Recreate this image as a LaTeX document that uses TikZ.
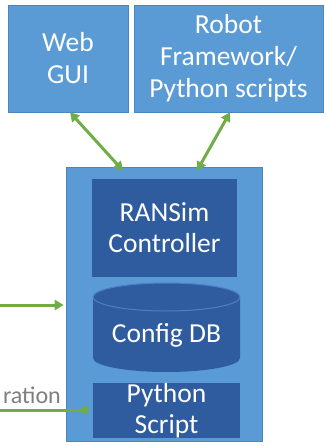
\documentclass[tikz,border=0pt]{standalone}
\usepackage{fontspec}
\setmainfont{Carlito}
\usetikzlibrary{arrows.meta,positioning,calc}

\definecolor{boxblue}{HTML}{5B9BD5}
\definecolor{boxedge}{HTML}{4A86C2}
\definecolor{darkblue}{HTML}{2E5C9E}
\definecolor{rimblue}{HTML}{4F7FC4}
\definecolor{linkgreen}{HTML}{70AD47}
\definecolor{labelgray}{HTML}{7F7F7F}

\begin{document}
\begin{tikzpicture}[
    x=1pt, y=-1pt,
    >={Triangle[length=9pt,width=10pt]},
    outerbox/.style={
        rectangle, draw=boxedge, fill=boxblue, line width=0.6pt,
        text centered, text=white, inner sep=0pt,
        font=\fontsize{27.5}{32}\selectfont
    },
    innerbox/.style={
        rectangle, fill=darkblue, inner sep=0pt,
        text centered, text=white,
        font=\fontsize{27.5}{31}\selectfont
    },
    link/.style={<->, line width=3pt, color=linkgreen},
    feed/.style={line width=3pt, color=linkgreen}
]
    \useasboundingbox (0,0) rectangle (325,446);

    % Nodes
    \node[outerbox, minimum width=120pt, minimum height=107pt, align=center] (web) at (68,58.5) {Web\\GUI};
    \node[outerbox, minimum width=189pt, minimum height=107pt, align=center] (robot) at (228.5,58.5) {Robot\\Framework/\\Python scripts};

    \node[outerbox, minimum width=196pt, minimum height=274pt] (sim) at (164,304) {};

    \node[innerbox, minimum width=145pt, minimum height=98pt, align=center] (ctrl) at (164.5,228) {RANSim\\Controller};

    % database drum
    \fill[darkblue] (93,297) -- (93,358) arc[start angle=180, end angle=360, x radius=73.5pt, y radius=14pt]
        -- (240,297) arc[start angle=0, end angle=180, x radius=73.5pt, y radius=14pt] -- cycle;
    \draw[rimblue, line width=1pt, fill=darkblue] (166.5,297) ellipse[x radius=73.5pt, y radius=14pt];
    \node[text=white, font=\fontsize{27.5}{31}\selectfont] (db) at (166.5,335) {Config DB};

    \node[innerbox, minimum width=147pt, minimum height=53pt, align=center] (script) at (166.5,410.5) {Python\\Script};

    \coordinate (feedin) at (0,305);
    \coordinate (confin) at (0,410);
    \node[anchor=east, text=labelgray, font=\fontsize{24}{26}\selectfont, inner sep=0pt] (conf) at (61,395) {ration};

    % Connections
    \draw[link] ([xshift=2pt]web.south) -- ([xshift=-41pt,yshift=-4pt]sim.north);
    \draw[link] ([xshift=1.5pt]robot.south) -- ([xshift=33pt,yshift=-4pt]sim.north);
    \draw[feed, ->] (feedin) -- ([xshift=-2pt]sim.west |- feedin);
    \draw[feed] (confin) -- ([xshift=-8pt]script.west |- confin);
    \fill[linkgreen] ([xshift=-8pt]script.west |- confin) circle[radius=4pt];

\end{tikzpicture}
\end{document}
